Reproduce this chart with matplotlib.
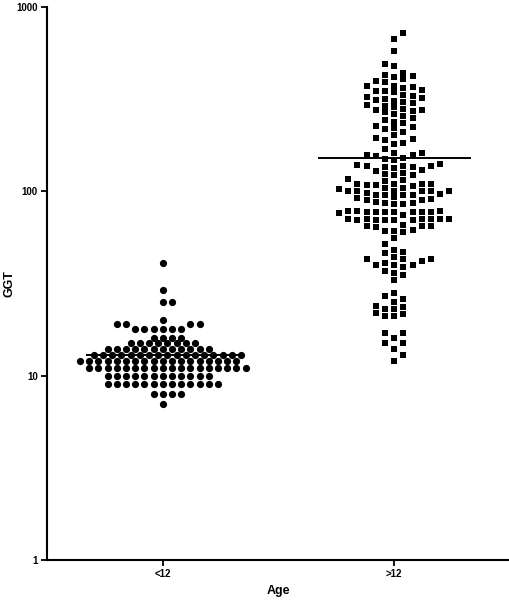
import numpy as np
import matplotlib
matplotlib.use("Agg")
import matplotlib.pyplot as plt
from matplotlib.ticker import FixedLocator, FixedFormatter, NullLocator

plt.rcParams['font.family'] = ['Liberation Sans', 'DejaVu Sans']

# ---------------- data ----------------
categories = ["<12", ">12"]
x_label = "Age"
y_label = "GGT"
y_ticks = [1, 10, 100, 1000]
y_tick_labels = ["1", "10", "100", "1000"]

group_lt12 = ([7] * 1 + [8] * 4 + [9] * 13 + [10] * 12 + [11] * 18 + [12] * 18 +
              [13] * 17 + [14] * 12 + [15] * 8 + [16] * 4 + [18] * 6 + [19] * 4 +
              [20] * 1 + [25] * 2 + [29] * 1 + [41] * 1)

group_gt12 = [
    720, 670, 580, 490, 480,
    440, 430, 420, 415, 405, 395, 390,
    375, 372, 370, 365, 355, 352, 350, 345,
    335, 330, 325, 320, 318, 312, 310, 305, 300,
    295, 292, 285, 280, 277, 275, 272, 268, 262, 256, 250,
    243, 239, 235, 226, 222, 220, 218, 211, 202,
    195, 193, 189, 184, 180, 169,
    162, 161, 158, 157, 156, 152, 150,
    147, 140, 139, 138, 137, 137, 136, 136, 134, 130, 129,
    126, 124, 123, 122, 116, 115, 114,
    110, 110, 109, 109, 108, 108, 107, 104, 104, 103, 101, 101, 100, 100, 100, 100,
    98, 97, 96, 95, 95, 95, 93, 92, 91, 90, 90,
    87, 86, 86, 85, 85,
    78, 78, 78, 77.5, 77.5, 77.5, 77, 77, 77, 77, 76,
    74, 71, 71, 71, 70.5, 70.5, 70.5, 70, 70, 70, 70, 70,
    66, 65, 65, 65, 64, 62, 61, 61, 60,
    56, 52, 48, 47, 46,
    44, 43, 43, 43, 42, 41, 40, 40, 40, 39, 37, 36, 35,
    33,
    28, 27, 26, 25, 24, 23.5, 23, 23, 22, 21.5, 21, 21,
    17, 17, 16, 15, 15, 14, 13, 12,
]

groups = [group_lt12, group_gt12]

# ---------------- figure ----------------
W, H = 510, 600
fig = plt.figure(figsize=(W / 100, H / 100), dpi=100)
ax = fig.add_axes([47 / W, 40 / H, 463 / W, 553 / H])
ax.set_yscale('log')
ax.set_ylim(1, 1000)
ax.set_xlim(-0.5, 1.5)


def swarm(values, center, step_px, dmin_px):
    vals = np.asarray(values, float)
    order = np.argsort(vals, kind='stable')
    pts = ax.transData.transform(np.column_stack([np.full(len(vals), center), vals]))
    ypix = pts[:, 1]
    ppu = ax.transData.transform((1, 1))[0] - ax.transData.transform((0, 1))[0]
    placed = []
    xs = np.zeros(len(vals))
    side = 1
    for i in order:
        y = ypix[i]
        k = 0
        chosen = None
        while chosen is None:
            cands = [0] if k == 0 else [side * k, -side * k]
            for c in cands:
                x = c * step_px
                if all((x - px) ** 2 + (y - py) ** 2 >= dmin_px ** 2 for px, py in placed):
                    chosen = c
                    break
            k += 1
        if chosen != 0:
            side = -int(np.sign(chosen))
        placed.append((chosen * step_px, y))
        xs[i] = center + chosen * step_px / ppu
    return xs


xs1 = swarm(group_lt12, 0, 4.6, 6.9)
ax.plot(xs1, group_lt12, linestyle='none', marker='o', markersize=5.2,
        color='black', markeredgewidth=0)
xs2 = swarm(group_gt12, 1, 9.2, 6.6)
ax.plot(xs2, group_gt12, linestyle='none', marker='s', markersize=4.6,
        color='black', markeredgewidth=0)

for i, g in enumerate(groups):
    m = np.mean(g)
    ax.hlines(m, i - 0.33, i + 0.33, color='black', linewidth=1.4, zorder=3)

# ---------------- axes styling ----------------
for s in ['top', 'right']:
    ax.spines[s].set_visible(False)
for s in ['left', 'bottom']:
    ax.spines[s].set_linewidth(1.5)

ax.yaxis.set_major_locator(FixedLocator(y_ticks))
ax.yaxis.set_major_formatter(FixedFormatter(y_tick_labels))
ax.yaxis.set_minor_locator(NullLocator())
ax.set_xticks([0, 1])
ax.set_xticklabels(categories)
ax.tick_params(axis='both', direction='out', length=4.5, width=1.3,
               labelsize=7, pad=2)
for lab in ax.get_xticklabels() + ax.get_yticklabels():
    lab.set_fontweight('bold')

ax.set_xlabel(x_label, fontsize=9, fontweight='bold', labelpad=4)
ax.set_ylabel(y_label, fontsize=9, fontweight='bold')
ax.yaxis.set_label_coords(-0.068, 0.5)

fig.savefig("out.png", dpi=100)
